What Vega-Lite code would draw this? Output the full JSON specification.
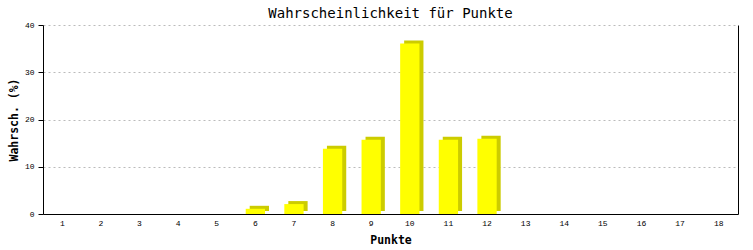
{
  "$schema": "https://vega.github.io/schema/vega-lite/v6.json",
  "width": 695,
  "height": 189,
  "autosize": "none",
  "padding": {"left": 43, "top": 25, "right": 15, "bottom": 36},
  "background": "white",
  "config": {"view": {"stroke": null}},
  "title": {"text": "Wahrscheinlichkeit für Punkte", "font": "DejaVu Sans Mono", "fontSize": 14, "fontWeight": "normal", "color": "black", "offset": 0},
  "data": {"values": [
    {"punkte": 1, "wahrsch": 0},
    {"punkte": 2, "wahrsch": 0},
    {"punkte": 3, "wahrsch": 0},
    {"punkte": 4, "wahrsch": 0},
    {"punkte": 5, "wahrsch": 0},
    {"punkte": 6, "wahrsch": 1.1},
    {"punkte": 7, "wahrsch": 2.1},
    {"punkte": 8, "wahrsch": 13.8},
    {"punkte": 9, "wahrsch": 15.7},
    {"punkte": 10, "wahrsch": 36.1},
    {"punkte": 11, "wahrsch": 15.7},
    {"punkte": 12, "wahrsch": 15.9},
    {"punkte": 13, "wahrsch": 0},
    {"punkte": 14, "wahrsch": 0},
    {"punkte": 15, "wahrsch": 0},
    {"punkte": 16, "wahrsch": 0},
    {"punkte": 17, "wahrsch": 0},
    {"punkte": 18, "wahrsch": 0}
  ]},
  "encoding": {
    "x": {
      "field": "punkte", "type": "ordinal",
      "scale": {"paddingInner": 0.5, "paddingOuter": 0.25},
      "axis": {
        "labelAngle": 0, "ticks": false, "grid": false,
        "domainColor": "black", "labelFont": "Liberation Mono", "labelFontSize": 8, "labelColor": "black",
        "labelPadding": 5, "title": "Punkte", "titleFont": "DejaVu Sans Mono", "titleFontSize": 11.5,
        "titleFontWeight": "bold", "titleColor": "black", "titlePadding": 7
      }
    }
  },
  "resolve": {"axis": {"y": "independent"}},
  "layer": [
    {
      "mark": {"type": "bar", "color": "#cccc00", "xOffset": 4, "yOffset": -3},
      "encoding": {
        "y": {"field": "wahrsch", "type": "quantitative", "scale": {"domain": [0, 40]},
          "axis": {"orient": "right", "labels": false, "ticks": false, "grid": false, "title": null, "domainColor": "black"}}
      }
    },
    {
      "mark": {"type": "bar", "color": "#ffff00"},
      "encoding": {
        "y": {"field": "wahrsch", "type": "quantitative", "scale": {"domain": [0, 40]},
          "axis": {
            "orient": "left", "values": [0, 10, 20, 30, 40], "grid": true, "gridColor": "#bbbbbb", "gridDash": [2, 3],
            "tickSize": 5, "tickColor": "black", "domainColor": "black",
            "labelFont": "Liberation Mono", "labelFontSize": 8, "labelColor": "black", "labelPadding": 4,
            "title": "Wahrsch. (%)", "titleFont": "DejaVu Sans Mono", "titleFontSize": 11.5, "titleFontWeight": "bold",
            "titleColor": "black", "titlePadding": 5
          }}
      }
    }
  ]
}
